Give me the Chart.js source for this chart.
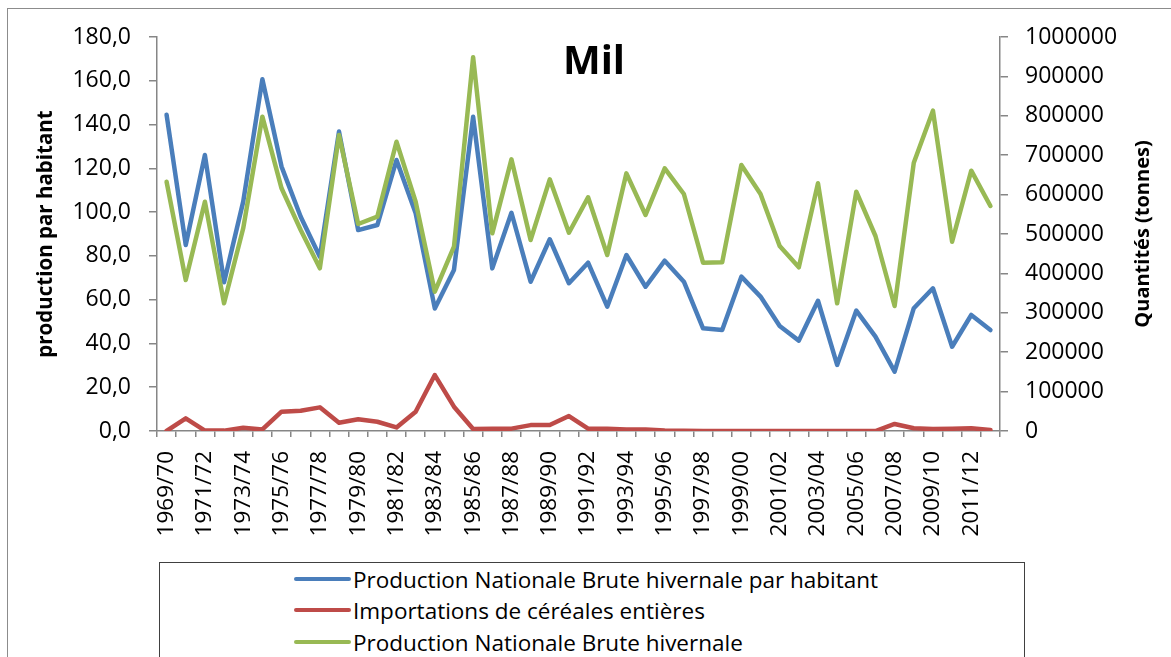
<!DOCTYPE html>
<html>
<head>
<meta charset="utf-8">
<script src="https://cdn.jsdelivr.net/npm/chart.js@4"></script>
<style>
  body { margin: 0; background: #fff; font-family: 'Open Sans', sans-serif; }
  #cadre { position: absolute; left: 7px; top: 8px; width: 1200px; height: 700px; border: 1.5px solid #8c8c8c; }
  #zone { position: absolute; left: 0; top: 0; width: 1171px; height: 657px; }
  #legende { position: absolute; left: 159px; top: 562px; width: 864px; height: 200px; border: 1.5px solid #404040; background: #fff; }
  .item { position: absolute; left: 134px; height: 30px; display: flex; align-items: center; font-size: 22.5px; color: #000; white-space: nowrap; }
  .trait { display: inline-block; width: 57px; height: 4px; border-radius: 2px; margin-right: 2px; }
</style>
</head>
<body>
<div id="cadre"></div>
<div id="zone"><canvas id="myChart" width="1171" height="657"></canvas></div>
<div id="legende"></div>
<script>
const annees = ["1969/70","1970/71","1971/72","1972/73","1973/74","1974/75","1975/76","1976/77","1977/78","1978/79",
  "1979/80","1980/81","1981/82","1982/83","1983/84","1984/85","1985/86","1986/87","1987/88","1988/89",
  "1989/90","1990/91","1991/92","1992/93","1993/94","1994/95","1995/96","1996/97","1997/98","1998/99",
  "1999/00","2000/01","2001/02","2002/03","2003/04","2004/05","2005/06","2006/07","2007/08","2008/09",
  "2009/10","2010/11","2011/12","2012/13"];

// production par habitant (axe de gauche)
const parHabitant = [144.5, 85.0, 126.1, 68.0, 104.8, 160.7, 120.8, 97.9, 79.6, 136.8,
  91.8, 94.1, 123.8, 99.5, 56.0, 73.6, 143.6, 74.3, 99.7, 68.2,
  87.6, 67.5, 76.9, 56.8, 80.4, 65.9, 77.8, 68.2, 46.9, 46.1,
  70.5, 61.4, 48.0, 41.3, 59.5, 30.2, 55.0, 43.1, 27.1, 56.1,
  65.2, 38.5, 53.0, 46.1];

// importations en tonnes (axe de droite)
const importations = [0, 32000, 1000, 1000, 8000, 4000, 49000, 51500, 60000, 21000,
  30000, 23500, 9000, 49000, 142000, 61700, 5000, 6000, 6000, 15000,
  15000, 38000, 6000, 6000, 4000, 4000, 1000, 500, 0, 0,
  0, 0, 0, 0, 0, 0, 0, 0, 17800, 7000,
  5000, 6000, 7000, 2500];

// production brute en tonnes (axe de droite)
const production = [632700, 383200, 582000, 324100, 514500, 797700, 616000, 510200, 413000, 751300,
  525400, 544000, 734300, 582000, 353600, 467800, 948400, 501700, 689500, 484800,
  638800, 503300, 593100, 446700, 654000, 548200, 666700, 601500, 427200, 428000,
  675100, 601500, 469500, 415500, 628700, 324100, 607400, 494900, 317300, 681000,
  813000, 480500, 660700, 571100];

const nomsSeries = ["Production Nationale Brute hivernale par habitant", "Importations de céréales entières", "Production Nationale Brute hivernale"];
const couleurs = ["#4a7ebb", "#be4b48", "#98b954"];

const police = "'Open Sans', sans-serif";
const gris = "#868686";

// titre "Mil" et titre de l'axe de droite
const textes = {
  id: 'textes',
  afterDraw(chart) {
    const c = chart.ctx;
    c.save();
    c.fillStyle = '#000';
    c.font = "bold 40px " + police;
    c.textAlign = 'center';
    c.textBaseline = 'alphabetic';
    c.fillText("Mil", 594, 74);
    c.font = "bold 20px " + police;
    c.textBaseline = 'middle';
    c.translate(1143, 234);
    c.rotate(-Math.PI / 2);
    c.fillText("Quantités (tonnes)", 0, 0);
    c.restore();
  }
};

const ligne = (i, data, axe, ordre) => ({
  label: nomsSeries[i],
  data: data,
  yAxisID: axe,
  order: ordre,
  borderColor: couleurs[i],
  backgroundColor: couleurs[i],
  borderWidth: 4.5,
  pointRadius: 0,
  tension: 0,
  borderJoinStyle: 'round',
  borderCapStyle: 'round'
});

const ctx = document.getElementById('myChart');
new Chart(ctx, {
  type: 'line',
  data: {
    labels: annees,
    datasets: [
      ligne(0, parHabitant, 'y', 3),
      ligne(1, importations, 'y1', 2),
      ligne(2, production, 'y1', 1)
    ]
  },
  options: {
    responsive: false,
    animation: false,
    layout: { padding: { top: 37, left: 0, right: 0, bottom: 0 } },
    plugins: { legend: { display: false }, tooltip: { enabled: false } },
    scales: {
      x: {
        offset: true,
        afterFit: s => { s.height = 226; },
        border: { color: gris, width: 1.5 },
        grid: { offset: true, drawOnChartArea: false, drawTicks: true, tickLength: 6, color: gris, lineWidth: 1.5 },
        ticks: {
          autoSkip: false, minRotation: 90, maxRotation: 90, padding: 14,
          color: '#000', font: { family: police, size: 22.5 },
          callback: function(v, i) { return i % 2 == 0 ? this.getLabelForValue(v) : ''; }
        }
      },
      y: {
        position: 'left', min: 0, max: 180,
        afterFit: s => { s.width = 157; },
        border: { color: gris, width: 1.5 },
        grid: { drawOnChartArea: false, tickLength: 8, color: gris, lineWidth: 1.5 },
        ticks: {
          stepSize: 20, padding: 18, color: '#000', font: { family: police, size: 23 },
          callback: v => v.toFixed(1).replace('.', ',')
        },
        title: {
          display: true, text: "production par habitant", color: '#000',
          font: { family: police, size: 20.5, weight: 'bold' }, padding: { top: 34, bottom: 0 }
        }
      },
      y1: {
        position: 'right', min: 0, max: 1000000,
        afterFit: s => { s.width = 171; },
        border: { color: gris, width: 1.5 },
        grid: { drawOnChartArea: false, tickLength: 8, color: gris, lineWidth: 1.5 },
        ticks: {
          stepSize: 100000, padding: 17, color: '#000', font: { family: police, size: 23 },
          callback: v => String(v)
        }
      }
    }
  },
  plugins: [textes]
});

// légende dans un cadre sous le graphique
const legende = document.getElementById('legende');
const hauts = [1, 32, 64];
for (let i = 0; i < nomsSeries.length; i++) {
  const d = document.createElement('div');
  d.className = 'item';
  d.style.top = hauts[i] + 'px';
  d.innerHTML = '<span class="trait" style="background:' + couleurs[i] + '"></span>' + nomsSeries[i];
  legende.appendChild(d);
}
</script>
</body>
</html>
